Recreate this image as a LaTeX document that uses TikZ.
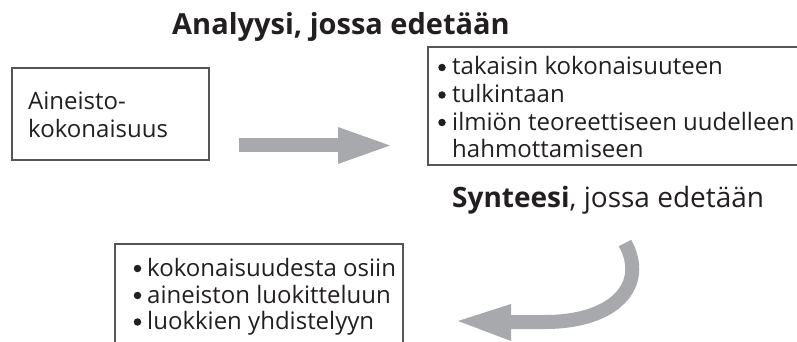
\documentclass[tikz,border=0pt]{standalone}
\usepackage{fontspec}
\setmainfont{Open Sans}
\definecolor{arrowgray}{HTML}{A7A9AC}
\definecolor{txt}{HTML}{231F20}
\definecolor{frame}{HTML}{555555}
\begin{document}
\begin{tikzpicture}[x=1pt,y=-1pt,
  lbl/.style={anchor=base west,inner sep=0pt,text=txt,font=\fontsize{24}{28}\selectfont},
  bul/.style={circle,fill=txt,draw=none,inner sep=0pt,minimum size=7.5pt},
  headtxt/.style={anchor=base west,inner sep=0pt,text=txt,font=\fontsize{28}{32}\selectfont},
  frm/.style={draw=frame,line width=1.3pt},
  blockarrow/.style={fill=arrowgray,draw=none}]
\useasboundingbox (0,0) rectangle (797,342);

% titles
\node[headtxt,font=\fontsize{29}{33}\selectfont\bfseries] (title) at (172,34.5) {Analyysi, jossa edetään};
\node[headtxt] (synt) at (452,207.5) {\textbf{Synteesi}, jossa edetään};

% box 1
\node[frm,rectangle,minimum width=197pt,minimum height=92pt,inner sep=0pt] (box1) at (110.5,114) {};
\node[lbl] (b1l1) at (28,110) {Aineisto-};
\node[lbl] (b1l2) at (28,137) {kokonaisuus};

% box 2 (cut at right edge)
\draw[frm] (797,47) -- (428,47) -- (428,165) -- (797,165);
\node[bul] (b2p1) at (442,67.5) {};
\node[lbl] (b2l1) at (452,75) {takaisin kokonaisuuteen};
\node[bul] (b2p2) at (442,95) {};
\node[lbl] (b2l2) at (452,102.5) {tulkintaan};
\node[bul] (b2p3) at (442,122.5) {};
\node[lbl] (b2l3) at (452,130) {ilmiön teoreettiseen uudelleen};
\node[lbl] (b2l4) at (452,157) {hahmottamiseen};

% box 3 (cut at bottom edge)
\draw[frm] (115,342) -- (115,244) -- (403,244) -- (403,342);
\node[bul] (b3p1) at (137.5,268.5) {};
\node[lbl] (b3l1) at (147,276) {kokonaisuudesta osiin};
\node[bul] (b3p2) at (137.5,295.5) {};
\node[lbl] (b3l2) at (147,303) {aineiston luokitteluun};
\node[bul] (b3p3) at (137.5,322) {};
\node[lbl] (b3l3) at (147,329.5) {luokkien yhdistelyyn};

% straight block arrow
\fill[blockarrow] (239,138) rectangle (340,152);
\fill[blockarrow] (338,127) -- (390,145.5) -- (338,164) -- cycle;

% curved block arrow
\coordinate (cstart) at (625,243);
\coordinate (cend) at (510,322);
\draw[arrowgray,line width=14pt] (cstart) .. controls (648,285) and (615,322) .. (545,322) -- (cend);
\fill[blockarrow] (511,304) -- (458,321) -- (511,341) -- cycle;
\end{tikzpicture}
\end{document}
